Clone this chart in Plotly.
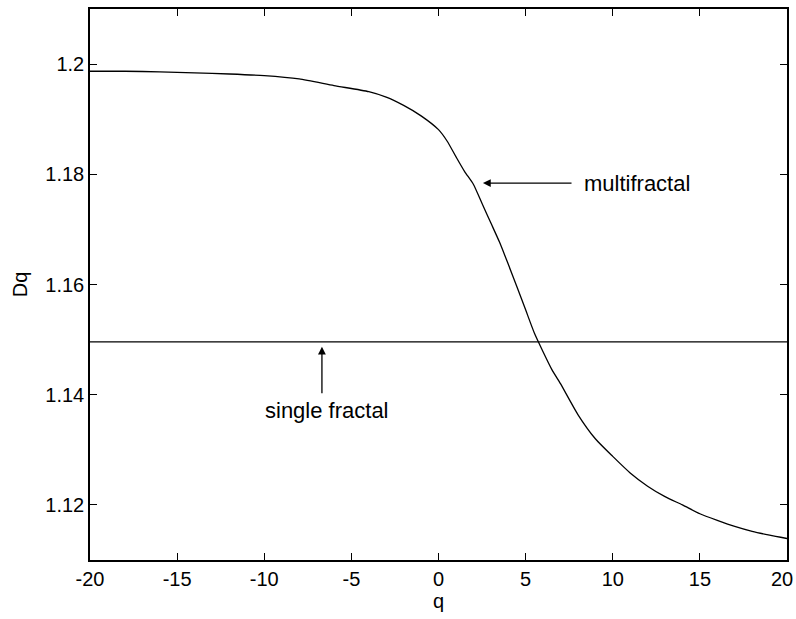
import plotly.graph_objects as go

# Generalized dimension spectrum D(q)
q = [-20, -18, -16, -14, -12, -10, -8, -6, -4, -3, -2, -1, 0, 0.5, 1, 1.5, 2,
     2.5, 3, 3.5, 4, 4.5, 5, 5.5, 6, 6.5, 7, 8, 9, 10, 11, 12, 13, 14, 15,
     16, 17, 18, 19, 20]
dq = [1.1987, 1.1987, 1.1986, 1.1984, 1.1982, 1.1979, 1.1973, 1.1961, 1.1950,
      1.1940, 1.1925, 1.1906, 1.1881, 1.1860, 1.1832, 1.1805, 1.1782, 1.1747,
      1.1712, 1.1677, 1.1637, 1.1596, 1.1554, 1.1512, 1.1478, 1.1446, 1.1420,
      1.1364, 1.1320, 1.1288, 1.1258, 1.1234, 1.1215, 1.1200, 1.1184, 1.1172,
      1.1161, 1.1152, 1.1145, 1.1139]

# Single-fractal reference level
single_level = 1.1496
q_range = [-20, 20]

x_ticks = [-20, -15, -10, -5, 0, 5, 10, 15, 20]
x_tick_text = ["-20", "-15", "-10", "-5", "0", "5", "10", "15", "20"]
y_ticks = [1.12, 1.14, 1.16, 1.18, 1.2]
y_tick_text = ["1.12", "1.14", "1.16", "1.18", "1.2"]

FONT = "Liberation Sans, Arial, sans-serif"

fig = go.Figure()
fig.add_trace(go.Scatter(x=q, y=dq, mode="lines", line_shape="spline",
                         line=dict(color="black", width=1.3, smoothing=0.6),
                         showlegend=False, hoverinfo="skip"))
fig.add_trace(go.Scatter(x=q_range, y=[single_level, single_level], mode="lines",
                         line=dict(color="black", width=1.3),
                         showlegend=False, hoverinfo="skip"))

# Arrows pointing at the two curves
fig.add_annotation(x=2.55, y=1.1784, ax=7.72, ay=1.1784,
                   xref="x", yref="y", axref="x", ayref="y",
                   text="", showarrow=True, arrowhead=2, arrowsize=1.2,
                   arrowwidth=1.3, arrowcolor="black", standoff=0, startstandoff=0)
fig.add_annotation(x=8.24, y=1.1784, xref="x", yref="y", text="multifractal",
                   showarrow=False, xanchor="left", yanchor="middle",
                   font=dict(family=FONT, size=22, color="black"))

fig.add_annotation(x=-6.69, y=1.1487, ax=-6.69, ay=1.1400,
                   xref="x", yref="y", axref="x", ayref="y",
                   text="", showarrow=True, arrowhead=2, arrowsize=1.2,
                   arrowwidth=1.3, arrowcolor="black", standoff=0, startstandoff=0)
fig.add_annotation(x=-6.4, y=1.1372, xref="x", yref="y", text="single fractal",
                   showarrow=False, xanchor="center", yanchor="middle",
                   font=dict(family=FONT, size=22, color="black"))

# The last x tick label sits at the page edge; place it right-aligned so it
# stays fully on the page.
fig.add_annotation(x=x_ticks[-1], y=0, xref="x", yref="paper",
                   text=x_tick_text[-1], showarrow=False,
                   xanchor="right", yanchor="middle", xshift=7, yshift=-19,
                   borderpad=0, font=dict(family=FONT, size=20, color="black"))

axis_common = dict(showline=True, linecolor="black", linewidth=1.5, mirror="ticks",
                   ticks="inside", ticklen=7, tickwidth=1, tickcolor="black",
                   showgrid=False, zeroline=False, automargin=False,
                   tickfont=dict(family=FONT, size=20, color="black"))

fig.update_xaxes(range=q_range, tickvals=x_ticks,
                 ticktext=x_tick_text[:-1] + [""],
                 title=dict(text="q", font=dict(family=FONT, size=20, color="black"),
                            standoff=4),
                 **axis_common)
fig.update_yaxes(range=[1.11, 1.21], tickvals=y_ticks, ticktext=y_tick_text,
                 title=dict(text="Dq", font=dict(family=FONT, size=20, color="black"),
                            standoff=12),
                 **axis_common)

fig.update_layout(width=796, height=619,
                  margin=dict(l=90, r=9, t=9, b=59),
                  paper_bgcolor="white", plot_bgcolor="white")

fig.write_html("out.html")
